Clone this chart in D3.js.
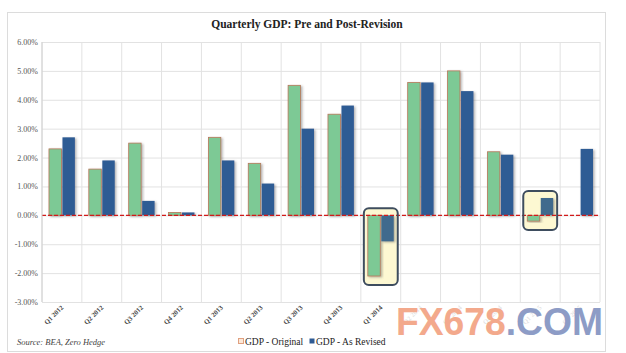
<!DOCTYPE html>
<html>
<head>
<meta charset="utf-8">
<script src="https://cdn.jsdelivr.net/npm/d3@7"></script>
<style>
  body { margin: 0; background: #fff; }
  svg { display: block; }
  .grid line { stroke: #e2e2e2; stroke-width: 1; }
  .grid path { display: none; }
</style>
</head>
<body>
<div id="container"></div>
<script>
// quarterly GDP, first print vs revised (annualised %)

var quarters = ["Q1 2012", "Q2 2012", "Q3 2012", "Q4 2012", "Q1 2013", "Q2 2013", "Q3 2013",
                "Q4 2013", "Q1 2014", "Q2 2014", "Q3 2014", "Q4 2014", "Q1 2015", "Q2 2015"];
var gdpOriginal = [2.3, 1.6, 2.5, 0.1, 2.7, 1.8, 4.5, 3.5, -2.1, 4.6, 5.0, 2.2, -0.2, null];
var gdpRevised  = [2.7, 1.9, 0.5, 0.1, 1.9, 1.1, 3.0, 3.8, -0.9, 4.6, 4.3, 2.1, 0.6, 2.3];
var yTicks = [-3, -2, -1, 0, 1, 2, 3, 4, 5, 6];
var highlighted = ["Q1 2014", "Q1 2015"];
var seriesNames = ["GDP - Original", "GDP - As Revised"];

var W = 626, H = 353;
var plot = {left: 42, right: 600, top: 42, bottom: 302};

var svg = d3.select("#container").append("svg")
    .attr("width", W)
    .attr("height", H);

// drop shadow for the bars
var defs = svg.append("defs");
var f = defs.append("filter").attr("id", "shadow")
    .attr("x", "-30%").attr("y", "-10%").attr("width", "160%").attr("height", "130%");
f.append("feDropShadow")
    .attr("dx", 1.5).attr("dy", 1).attr("stdDeviation", 1)
    .attr("flood-color", "#555").attr("flood-opacity", 0.45);

// outer frame
svg.append("rect")
    .attr("x", 7.5).attr("y", 12.5)
    .attr("width", 598).attr("height", 339)
    .attr("fill", "#fff")
    .attr("stroke", "#dcdcdc");

// scales
var x0 = d3.scaleBand()
    .domain(quarters)
    .range([plot.left, plot.right])
    .paddingInner(0.35)
    .paddingOuter(0.175);

var x1 = d3.scaleBand()
    .domain([0, 1])
    .range([0, x0.bandwidth()])
    .paddingInner(0.08);

var y = d3.scaleLinear()
    .domain([-3, 6])
    .range([plot.bottom, plot.top]);

// horizontal gridlines
svg.append("g")
    .attr("class", "grid")
    .attr("transform", "translate(" + plot.left + ",0)")
    .call(d3.axisLeft(y).tickValues(yTicks)
        .tickSize(-(plot.right - plot.left))
        .tickFormat(""));

// vertical gridlines at category boundaries
var step = x0.step();
svg.append("g")
    .attr("class", "grid")
    .selectAll("line")
    .data(d3.range(quarters.length + 1))
  .enter().append("line")
    .attr("x1", function(i) { return plot.left + i * step; })
    .attr("x2", function(i) { return plot.left + i * step; })
    .attr("y1", plot.top)
    .attr("y2", plot.bottom);

// y tick labels
svg.append("g")
    .selectAll("text")
    .data(yTicks)
  .enter().append("text")
    .attr("x", 38)
    .attr("y", function(d) { return y(d) + 3; })
    .attr("text-anchor", "end")
    .attr("font-family", "'Liberation Serif', serif")
    .attr("font-size", 8)
    .attr("fill", "#555")
    .text(function(d) { return d.toFixed(2) + "%"; });

// highlight boxes (fill behind bars)
var boxes = highlighted.map(function(q) {
  var i = quarters.indexOf(q);
  var vals = [gdpOriginal[i], gdpRevised[i], 0].filter(function(v) { return v !== null; });
  return {
    x: x0(q) - 4,
    w: x0.bandwidth() + 8,
    y: y(d3.max(vals)) - 7,
    h: y(d3.min(vals)) - y(d3.max(vals)) + 16
  };
});

svg.append("g")
    .selectAll("rect")
    .data(boxes)
  .enter().append("rect")
    .attr("x", function(d) { return d.x; })
    .attr("y", function(d) { return d.y; })
    .attr("width", function(d) { return d.w; })
    .attr("height", function(d) { return d.h; })
    .attr("rx", 5)
    .attr("fill", "#fdf8d2");

// bars
var rows = quarters.map(function(q, i) {
  return {q: q, vals: [gdpOriginal[i], gdpRevised[i]], hl: highlighted.indexOf(q) >= 0};
});

var fills = ["#7dc995", "#2f5b94"];
var strokes = ["#b8785a", "none"];

var groups = svg.append("g")
    .selectAll("g")
    .data(rows)
  .enter().append("g")
    .attr("transform", function(d) { return "translate(" + x0(d.q) + ",0)"; });

groups.selectAll("rect")
    .data(function(d) {
      return d.vals.map(function(v, k) { return {k: k, v: v, hl: d.hl}; })
        .filter(function(e) { return e.v !== null; });
    })
  .enter().append("rect")
    .attr("x", function(d) { return x1(d.k); })
    .attr("width", x1.bandwidth())
    .attr("y", function(d) { return y(Math.max(0, d.v)); })
    .attr("height", function(d) { return Math.abs(y(d.v) - y(0)); })
    .attr("fill", function(d) { return (d.hl && d.k == 1) ? "#406a8d" : fills[d.k]; })
    .attr("stroke", function(d) { return strokes[d.k]; })
    .attr("stroke-width", 0.8)
    .attr("filter", "url(#shadow)");

// zero line
svg.append("line")
    .attr("x1", plot.left).attr("x2", plot.right)
    .attr("y1", y(0)).attr("y2", y(0))
    .attr("stroke", "#d11a1a")
    .attr("stroke-width", 1.3)
    .attr("stroke-dasharray", "4,2");

// highlight box outlines
svg.append("g")
    .selectAll("rect")
    .data(boxes)
  .enter().append("rect")
    .attr("x", function(d) { return d.x; })
    .attr("y", function(d) { return d.y; })
    .attr("width", function(d) { return d.w; })
    .attr("height", function(d) { return d.h; })
    .attr("rx", 5)
    .attr("fill", "none")
    .attr("stroke", "#3e4d5e")
    .attr("stroke-width", 2);

// plot border lines
svg.append("line")
    .attr("x1", plot.left).attr("x2", plot.left)
    .attr("y1", plot.top).attr("y2", plot.bottom)
    .attr("stroke", "#d0d0d0");

// title
svg.append("text")
    .attr("x", 307)
    .attr("y", 28)
    .attr("text-anchor", "middle")
    .attr("font-family", "'Liberation Serif', serif")
    .attr("font-weight", "bold")
    .attr("font-size", 11.5)
    .attr("fill", "#222")
    .text("Quarterly GDP: Pre and Post-Revision");

// x labels, rotated
svg.append("g")
    .selectAll("text")
    .data(quarters)
  .enter().append("text")
    .attr("transform", function(d) {
      return "translate(" + (x0(d) + x0.bandwidth() / 2 + 2) + "," + (plot.bottom + 6) + ") rotate(-45)";
    })
    .attr("text-anchor", "end")
    .attr("font-family", "'Liberation Serif', serif")
    .attr("font-weight", "bold")
    .attr("font-size", 6.8)
    .attr("fill", "#444")
    .text(function(d) { return d; });

// source note
svg.append("text")
    .attr("x", 17)
    .attr("y", 345)
    .attr("font-family", "'Liberation Serif', serif")
    .attr("font-style", "italic")
    .attr("font-size", 8.5)
    .attr("fill", "#444")
    .text("Source: BEA, Zero Hedge");

// legend
var legend = svg.append("g");
var legX = [238, 309];
seriesNames.forEach(function(name, k) {
  legend.append("rect")
      .attr("x", legX[k] + 0.5).attr("y", 338.5)
      .attr("width", 5).attr("height", 5)
      .attr("fill", k == 0 ? "#fbe8d8" : fills[1])
      .attr("stroke", k == 0 ? "#e0a080" : "none");
  legend.append("text")
      .attr("x", legX[k] + 7)
      .attr("y", 345)
      .attr("font-family", "'Liberation Serif', serif")
      .attr("font-size", 9.5)
      .attr("fill", "#222")
      .text(name);
});

// watermark, with a faded backing that washes out what is beneath
svg.append("rect")
    .attr("x", 394).attr("y", 303)
    .attr("width", 211).attr("height", 35)
    .attr("fill", "#fff")
    .attr("opacity", 0.85);

var wm = svg.append("text")
    .attr("x", 396)
    .attr("y", 335)
    .attr("font-family", "'Liberation Sans', Arial, sans-serif")
    .attr("font-weight", "bold")
    .attr("font-size", 38)
    .attr("textLength", 207)
    .attr("lengthAdjust", "spacingAndGlyphs");
wm.append("tspan").attr("fill", "#f3a98c").text("FX678");
wm.append("tspan").attr("fill", "#8d9cc6").text(".COM");
</script>
</body>
</html>
